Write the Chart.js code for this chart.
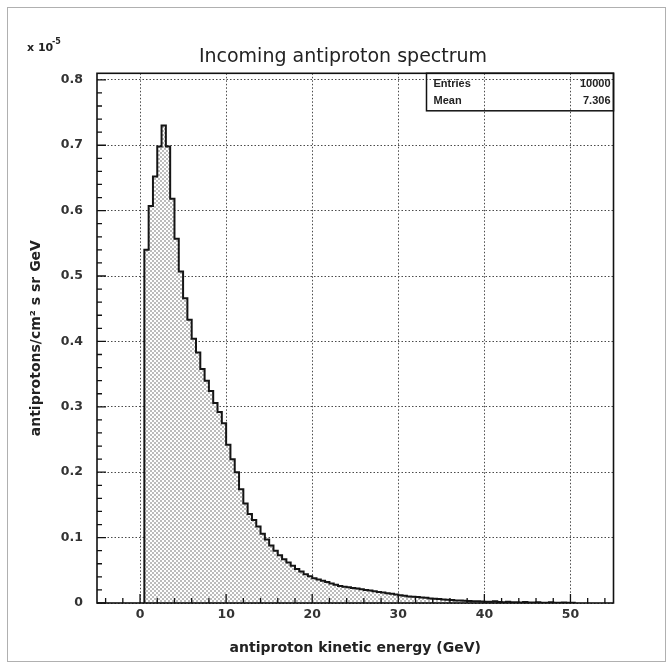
<!DOCTYPE html>
<html>
<head>
<meta charset="utf-8">
<script src="https://cdn.jsdelivr.net/npm/chart.js@4.4.1/dist/chart.umd.min.js"></script>
<style>
  html, body { margin: 0; padding: 0; background: #fff; }
  #wrap { width: 672px; height: 668px; }
</style>
</head>
<body>
<div id="wrap"><canvas id="spectrum" width="672" height="668"></canvas></div>
<script>
// histogram: 0.5 GeV bins starting at 0.5 GeV, values in units of 1e-5
const binStart = 0.5;
const binWidth = 0.5;
const flux = [
  0.540, 0.607, 0.652, 0.698, 0.730, 0.698, 0.618, 0.557, 0.507, 0.466,
  0.433, 0.404, 0.383, 0.358, 0.340, 0.324, 0.306, 0.292, 0.275, 0.242,
  0.220, 0.200, 0.174, 0.152, 0.136, 0.127, 0.117, 0.106, 0.097, 0.088,
  0.080, 0.073, 0.067, 0.062, 0.057, 0.052, 0.048, 0.044, 0.041, 0.038,
  0.036, 0.034, 0.032, 0.030, 0.028, 0.026, 0.025, 0.024, 0.023, 0.022,
  0.021, 0.020, 0.019, 0.018, 0.017, 0.016, 0.015, 0.014, 0.013, 0.012,
  0.011, 0.010, 0.0095, 0.009, 0.0085, 0.008, 0.007, 0.0065, 0.006, 0.0055,
  0.005, 0.0045, 0.004, 0.0038, 0.0035, 0.003, 0.0028, 0.0025, 0.0022, 0.002,
  0.0018, 0.0025, 0.0015, 0.0012, 0.0018, 0.001, 0.0012, 0.0008, 0.0015, 0.0008,
  0.0006, 0.0012, 0.0005, 0.0004, 0.001, 0.0004, 0.0003, 0.0008, 0.0003, 0.0002
];

const xTicks = [0, 10, 20, 30, 40, 50];
const yTicks = [0, 0.1, 0.2, 0.3, 0.4, 0.5, 0.6, 0.7, 0.8];
const yTickLabels = ['0', '0.1', '0.2', '0.3', '0.4', '0.5', '0.6', '0.7', '0.8'];
const statsRows = [['Entries', '10000'], ['Mean', '7.306']];
const titleText = 'Incoming antiproton spectrum';

// 阶梯线的点：左边缘 + 数值，首尾落到 0
const points = [{ x: binStart, y: 0 }];
flux.forEach((v, i) => points.push({ x: binStart + i * binWidth, y: v }));
points.push({ x: binStart + flux.length * binWidth, y: 0 });

// 点状填充
function stipple() {
  const c = document.createElement('canvas');
  c.width = 4; c.height = 4;
  const g = c.getContext('2d');
  g.fillStyle = '#fff';
  g.fillRect(0, 0, 4, 4);
  g.fillStyle = '#bcbcbc';
  g.fillRect(0, 0, 2, 2);
  g.fillRect(2, 2, 2, 2);
  return g.createPattern(c, 'repeat');
}

const tickFont = { family: 'DejaVu Sans', size: 12.5, weight: 'bold' };
const labelFont = { family: 'DejaVu Sans', size: 14, weight: 'bold' };

// 边框、内向刻度、统计框、标题、x 10^-5
const framePlugin = {
  id: 'frame',
  afterDraw(chart) {
    const { ctx, chartArea: a, scales: { x, y } } = chart;
    ctx.save();
    ctx.setLineDash([]);

    ctx.strokeStyle = '#b0b0b0';
    ctx.lineWidth = 1;
    ctx.strokeRect(7.5, 7.5, 658, 654);

    ctx.strokeStyle = '#111';
    ctx.lineWidth = 1.6;
    ctx.strokeRect(a.left, a.top, a.right - a.left, a.bottom - a.top);

    ctx.lineWidth = 1.3;
    ctx.beginPath();
    for (let v = -4; v <= 54; v += 2) {
      const px = x.getPixelForValue(v);
      const len = v % 10 === 0 ? 9 : 5;
      ctx.moveTo(px, a.bottom);
      ctx.lineTo(px, a.bottom - len);
    }
    for (let k = 0; k <= 40; k++) {
      const py = y.getPixelForValue(k * 0.02);
      const len = k % 5 === 0 ? 9 : 5;
      ctx.moveTo(a.left, py);
      ctx.lineTo(a.left + len, py);
    }
    ctx.stroke();

    // stats box
    const bw = 187, bh = 37.5;
    const bx = a.right - bw, by = a.top;
    ctx.lineWidth = 1.5;
    ctx.strokeRect(bx, by, bw, bh);
    ctx.fillStyle = '#222';
    ctx.font = 'bold 11px "Liberation Sans"';
    ctx.textBaseline = 'middle';
    statsRows.forEach((row, i) => {
      const ty = by + 11 + i * 17;
      ctx.textAlign = 'left';
      ctx.fillText(row[0], bx + 7, ty);
      ctx.textAlign = 'right';
      ctx.fillText(row[1], a.right - 3, ty);
    });

    // title
    ctx.textAlign = 'center';
    ctx.font = '19px "DejaVu Sans"';
    ctx.fillText(titleText, 343, 57);

    // exponent label
    ctx.textAlign = 'left';
    ctx.textBaseline = 'alphabetic';
    ctx.font = 'bold 11px "DejaVu Sans"';
    ctx.fillText('x 10', 27, 51);
    ctx.font = 'bold 8px "DejaVu Sans"';
    ctx.fillText('-5', 52, 44);
    ctx.restore();
  }
};

const ctx = document.getElementById('spectrum').getContext('2d');
new Chart(ctx, {
  type: 'line',
  data: {
    datasets: [{
      data: points,
      stepped: true,
      borderColor: '#151515',
      borderWidth: 2,
      backgroundColor: stipple(),
      fill: 'origin',
      pointRadius: 0
    }]
  },
  options: {
    responsive: false,
    animation: false,
    layout: { padding: { left: 0, right: 58.5, top: 73.3, bottom: 0 } },
    plugins: {
      legend: { display: false },
      tooltip: { enabled: false }
    },
    scales: {
      x: {
        type: 'linear',
        min: -5,
        max: 55,
        z: 1,
        afterBuildTicks: s => { s.ticks = xTicks.map(v => ({ value: v })); },
        afterFit: s => { s.height = 65; },
        grid: { color: '#4a4a4a', lineWidth: 1, drawTicks: false },
        border: { display: false, dash: [1.5, 2] },
        ticks: { color: '#333', font: tickFont, padding: 4, maxRotation: 0 },
        title: {
          display: true,
          text: 'antiproton kinetic energy (GeV)',
          color: '#222',
          font: labelFont,
          padding: { top: 0, bottom: 11.3 }
        }
      },
      y: {
        min: 0,
        max: 0.81,
        z: 1,
        afterBuildTicks: s => { s.ticks = yTicks.map(v => ({ value: v })); },
        afterFit: s => { s.width = 97; },
        grid: { color: '#4a4a4a', lineWidth: 1, drawTicks: false },
        border: { display: false, dash: [1.5, 2] },
        ticks: {
          color: '#333',
          font: tickFont,
          padding: 14,
          callback: (v, i) => yTickLabels[i]
        },
        title: {
          display: true,
          text: 'antiprotons/cm² s sr GeV',
          color: '#222',
          font: labelFont,
          padding: { top: 28, bottom: 0 }
        }
      }
    }
  },
  plugins: [framePlugin]
});
</script>
</body>
</html>
